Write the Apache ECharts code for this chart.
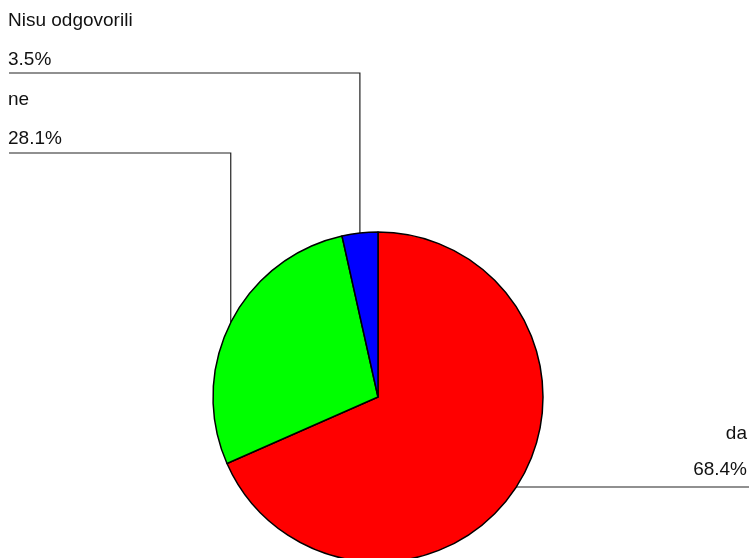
<!DOCTYPE html>
<html><head><meta charset="utf-8">
<script src="https://cdn.jsdelivr.net/npm/echarts@6/dist/echarts.min.js"></script>
<style>html,body{margin:0;padding:0;background:#fff}#c{width:749px;height:558px}</style>
</head><body><div id="c"></div>
<script>
const categories = ['da', 'ne', 'Nisu odgovorili'];
const values = [68.4, 28.1, 3.5];
const colors = ['#ff0000', '#00ff00', '#0000ff'];

// label layout: text anchor x, text block center y, align, line spacing, leader line y, leader end x
const labelPlace = {
  'da': { x: 747, y: 452, align: 'right', lh: 36, lineY: 487, endX: 749 },
  'ne': { x: 8, y: 119, align: 'left', lh: 39, lineY: 153, endX: 9 },
  'Nisu odgovorili': { x: 8, y: 40, align: 'left', lh: 39, lineY: 73, endX: 9 }
};

const chart = echarts.init(document.getElementById('c'), null, { renderer: 'canvas' });
chart.setOption({
  animation: false,
  backgroundColor: '#ffffff',
  series: [{
    type: 'pie',
    center: [378, 397],
    radius: [0, 165],
    startAngle: 90,
    clockwise: true,
    avoidLabelOverlap: false,
    data: categories.map((c, i) => ({
      name: c, value: values[i],
      itemStyle: { color: colors[i] },
      label: { lineHeight: labelPlace[c].lh }
    })),
    itemStyle: { borderColor: '#000', borderWidth: 1.5 },
    label: {
      show: true,
      position: 'outside',
      formatter: p => p.name + '\n' + p.value.toFixed(1) + '%',
      fontFamily: 'Liberation Sans, Arial, sans-serif',
      fontSize: 19,
      color: '#111'
    },
    labelLine: { show: true, length: 10, length2: 10, lineStyle: { color: '#222', width: 1.2 } },
    labelLayout: function (params) {
      const name = categories[params.dataIndex];
      const lp = labelPlace[name];
      const p0 = params.labelLinePoints ? params.labelLinePoints[0] : [0, 0];
      return {
        x: lp.x,
        y: lp.y,
        align: lp.align,
        verticalAlign: 'middle',
        labelLinePoints: [p0, [p0[0], lp.lineY], [lp.endX, lp.lineY]]
      };
    },
    emphasis: { disabled: true }
  }]
});
</script></body></html>
